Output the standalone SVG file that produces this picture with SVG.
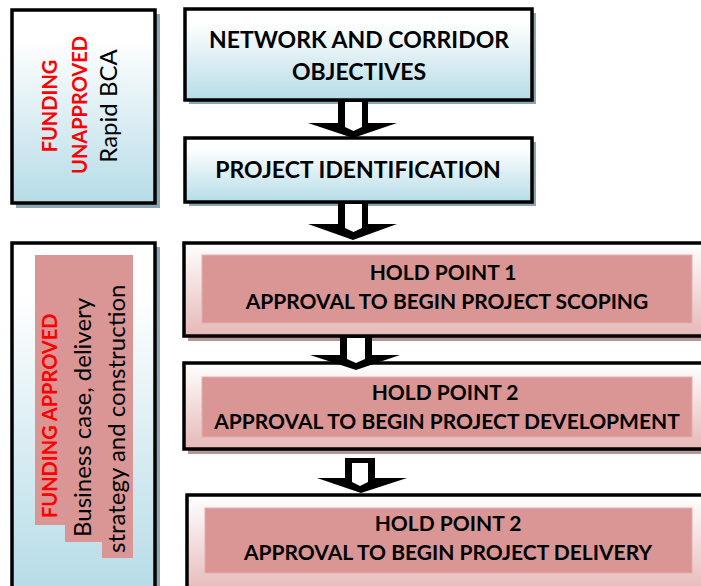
<svg xmlns="http://www.w3.org/2000/svg" width="701" height="586" viewBox="0 0 701 586">
<defs>
<linearGradient id="gBlue" x1="0" y1="0" x2="0" y2="1">
<stop offset="0" stop-color="#ffffff"/>
<stop offset="0.15" stop-color="#ffffff"/>
<stop offset="1" stop-color="#b6dce7"/>
</linearGradient>
<linearGradient id="gPink" x1="0" y1="0" x2="0" y2="1">
<stop offset="0" stop-color="#ffffff"/>
<stop offset="1" stop-color="#e6b8b7"/>
</linearGradient>
</defs>
<style>
.box{stroke:#000;stroke-width:3.5}
.blue{fill:url(#gBlue)}
.pink{fill:url(#gPink)}
.shb{fill:#8da7b0}
.shp{fill:#b59797}
.inner{fill:#d99694;stroke:#e3aeac;stroke-width:1}
.t{font-family:Lato,"Liberation Sans",sans-serif;font-weight:bold;fill:#000;text-anchor:middle}
.big{font-size:23px}
.hp{font-size:21px}
.red{font-family:Lato,"Liberation Sans",sans-serif;font-weight:bold;fill:#ff0000;font-size:20px}
.reg{font-family:Lato,"Liberation Sans",sans-serif;fill:#000;font-size:24px}
.arr{fill:#000}
.arrin{fill:#fff}
</style>
<rect width="701" height="586" fill="#ffffff"/>

<g id="funding-unapproved">
<rect class="shb" x="16" y="14" width="144" height="194"/>
<rect class="box blue" x="12" y="10" width="143" height="193"/>
<text class="red" text-anchor="middle" transform="translate(57,106) rotate(-90)">FUNDING</text>
<text class="red" text-anchor="middle" transform="translate(87,105) rotate(-90)">UNAPPROVED</text>
<text class="reg" text-anchor="middle" transform="translate(117,106) rotate(-90)">Rapid BCA</text>
</g>

<g id="funding-approved">
<rect class="shb" x="16" y="247" width="144" height="345"/>
<rect class="box blue" x="12" y="243" width="143" height="345"/>
<polygon fill="#d99694" points="35,255 133,255 133,558 102,558 102,542 65,542 65,525 35,525"/>
<text class="red" transform="translate(57,518) rotate(-90)">FUNDING APPROVED</text>
<text class="reg" transform="translate(91,537) rotate(-90)">Business case, delivery</text>
<text class="reg" transform="translate(125,553) rotate(-90)">strategy and construction</text>
</g>

<g id="network-objectives">
<rect class="shb" x="189" y="13" width="347" height="91"/>
<rect class="box blue" x="185" y="9" width="347" height="91"/>
<text class="t big" x="359" y="48">NETWORK AND CORRIDOR</text>
<text class="t big" x="359" y="80">OBJECTIVES</text>
</g>

<g id="project-identification">
<rect class="shb" x="189" y="142" width="347" height="64"/>
<rect class="box blue" x="185" y="138" width="347" height="64"/>
<text class="t big" x="358" y="178">PROJECT IDENTIFICATION</text>
</g>

<g id="hold-point-1">
<rect class="shp" x="188" y="247" width="530" height="94"/>
<rect class="box pink" x="184" y="243" width="530" height="93"/>
<rect class="inner" x="202" y="255" width="490" height="68"/>
<text class="t hp" x="443" y="280">HOLD POINT 1</text>
<text class="t hp" x="447" y="309">APPROVAL TO BEGIN PROJECT SCOPING</text>
</g>

<g id="hold-point-2">
<rect class="shp" x="188" y="367" width="530" height="87"/>
<rect class="box pink" x="184" y="363" width="530" height="86"/>
<rect class="inner" x="202" y="377" width="490" height="60"/>
<text class="t hp" x="445" y="400">HOLD POINT 2</text>
<text class="t hp" x="447" y="429">APPROVAL TO BEGIN PROJECT DEVELOPMENT</text>
</g>

<g id="hold-point-3">
<rect class="shp" x="191" y="499" width="530" height="100"/>
<rect class="box pink" x="187" y="495" width="530" height="100"/>
<rect class="inner" x="205" y="508" width="487" height="65"/>
<text class="t hp" x="448" y="531">HOLD POINT 2</text>
<text class="t hp" x="448" y="560">APPROVAL TO BEGIN PROJECT DELIVERY</text>
</g>

<g id="connectors">
<polygon class="arr" points="338,100 368,100 368,123 397,123 353,138 308,123 338,123"/>
<polygon class="arrin" points="345,102 362,102 362,127 353.5,131 345,127"/>
<polygon class="arr" points="338,202 368,202 368,224 397,224 353,240 308,224 338,224"/>
<polygon class="arrin" points="345,204 362,204 362,228 353.5,232 345,228"/>
<polygon class="arr" points="340,336 372,336 372,355 400,355 356,370 310,355 340,355"/>
<polygon class="arrin" points="347,338 365,338 365,359 356,363 347,359"/>
<polygon class="arr" points="345,458 375,458 375,478 407,478 361,493 317,478 345,478"/>
<polygon class="arrin" points="352,463 368,463 368,482 360,486 352,482"/>
</g>
</svg>
